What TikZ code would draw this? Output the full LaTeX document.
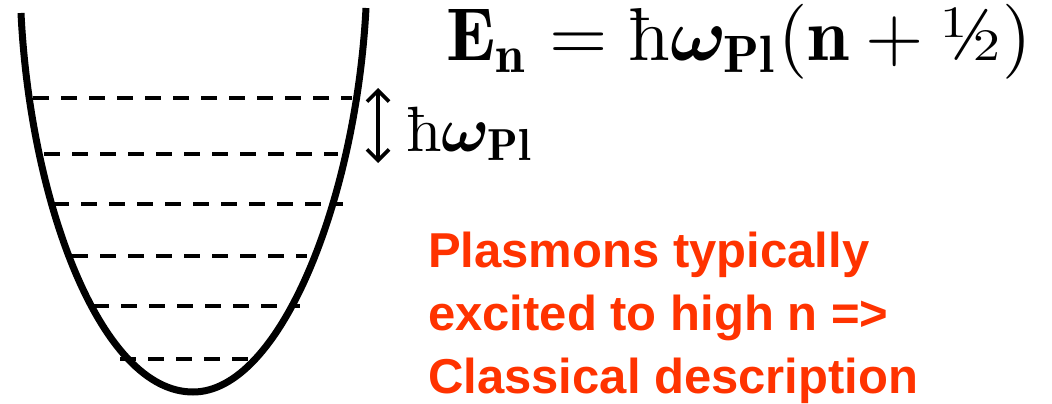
\documentclass[tikz,border=0pt]{standalone}
\usepackage{amsmath}
\usepackage{bm}
\usepackage{graphicx}
\usepackage{xcolor}
\usepackage{fontspec}
\newfontfamily\notefont{Liberation Sans}
\usepackage{tikz}
\usetikzlibrary{arrows.meta, positioning, calc}
\definecolor{notered}{RGB}{255,51,0}
\tikzset{
    well/.style={
        line width=7pt, black
    },
    level/.style={
        line width=3.6pt, dash pattern=on 16pt off 12pt, black
    },
    gaparrow/.style={
        line width=3.6pt, {Straight Barb[length=11pt,width=22pt]}-{Straight Barb[length=11pt,width=22pt]}
    },
    formula/.style={
        inner sep=0pt, anchor=base west, font=\normalsize
    },
    note/.style={
        inner sep=0pt, anchor=base west, align=left, text=notered,
        font=\fontsize{49}{63}\selectfont\notefont\bfseries
    }
}

\begin{document}
\begin{tikzpicture}[x=1pt, y=-1pt]
    \path[use as bounding box] (0,0) rectangle (1052,404);

    % potential well
    \draw[well] (21,13) .. controls (30,200) and (100,392) .. (193,392)
                        .. controls (280,392) and (356,200) .. (366,8);

    % energy levels: y, left end, right end
    \foreach \y/\xa/\xb in {98/33/352, 154/44/338, 204/53/343, 256/72/307, 306/93/300, 359/120/248}{
        \draw[level] (\xa,\y) -- (\xb,\y);
    }

    % level spacing
    \coordinate (gaptop) at (378,88);
    \coordinate (gapbot) at (378,163);
    \draw[gaparrow] (gaptop) -- (gapbot);
    \node[formula] (spacing) at (406,151)
        {\scalebox{6.4}{$\text{ħ}\bm{\omega}_{\mathbf{Pl}}$}};

    \node[formula] (energy) at (446,61)
        {\scalebox{7.5}{$\mathbf{E_n} = \text{ħ}\bm{\omega}_{\mathbf{Pl}}(\mathbf{n} + \text{½})$}};

    \node[note] (remark) at (428,393)
        {Plasmons typically\\excited to high n =>\\Classical description};
\end{tikzpicture}
\end{document}
